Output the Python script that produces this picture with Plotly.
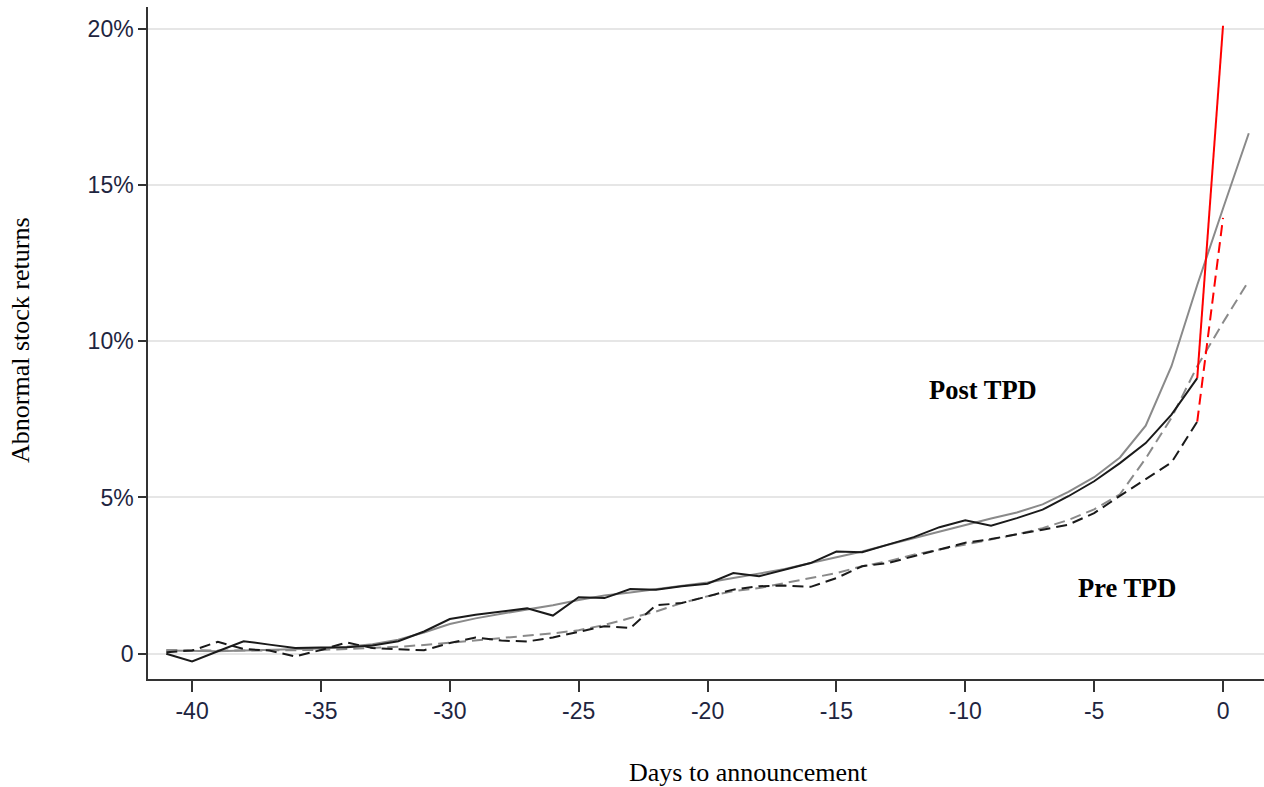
import plotly.graph_objects as go

days = list(range(-41, 2))           # -41 .. 1
days_act = list(range(-41, 0))       # -41 .. -1

post_actual = [0.00, -0.25, 0.08, 0.40, 0.29, 0.18, 0.20, 0.21, 0.26, 0.40,
               0.71, 1.11, 1.25, 1.35, 1.45, 1.22, 1.81, 1.78, 2.07, 2.05,
               2.16, 2.24, 2.58, 2.48, 2.69, 2.90, 3.27, 3.25, 3.49, 3.73,
               4.05, 4.27, 4.10, 4.34, 4.61, 5.04, 5.52, 6.10, 6.74, 7.65,
               8.82]
post_fit = [0.10, 0.08, 0.08, 0.10, 0.12, 0.15, 0.17, 0.22, 0.30, 0.45,
            0.68, 0.95, 1.13, 1.28, 1.42, 1.55, 1.72, 1.86, 1.96, 2.07,
            2.18, 2.28, 2.42, 2.56, 2.71, 2.90, 3.09, 3.27, 3.49, 3.70,
            3.92, 4.13, 4.33, 4.52, 4.78, 5.18, 5.65, 6.28, 7.30, 9.20,
            11.80, 14.25, 16.66]
pre_actual = [0.05, 0.10, 0.38, 0.15, 0.10, -0.09, 0.12, 0.36, 0.18, 0.15,
              0.11, 0.34, 0.52, 0.42, 0.39, 0.52, 0.70, 0.88, 0.82, 1.55,
              1.62, 1.84, 2.05, 2.16, 2.18, 2.14, 2.42, 2.80, 2.90, 3.12,
              3.33, 3.55, 3.67, 3.81, 3.97, 4.13, 4.50, 5.05, 5.59, 6.12,
              7.43]
pre_fit = [0.12, 0.10, 0.10, 0.10, 0.10, 0.10, 0.12, 0.15, 0.18, 0.22,
           0.28, 0.35, 0.42, 0.50, 0.56, 0.65, 0.75, 0.92, 1.14, 1.35,
           1.62, 1.84, 2.00, 2.10, 2.26, 2.42, 2.58, 2.80, 2.96, 3.17,
           3.33, 3.49, 3.65, 3.82, 4.02, 4.28, 4.62, 5.10, 6.25, 7.55,
           9.20, 10.60, 11.94]
post_jump = [8.82, 20.10]   # day -1 -> 0
pre_jump = [7.43, 13.95]
jump_days = [-1, 0]

y_ticks = [0, 5, 10, 15, 20]
y_labels = ["0", "5%", "10%", "15%", "20%"]
x_ticks = [-40, -35, -30, -25, -20, -15, -10, -5, 0]
x_labels = ["-40", "-35", "-30", "-25", "-20", "-15", "-10", "-5", "0"]

DASH = "11px,6px"
fig = go.Figure()
fig.add_trace(go.Scatter(x=days, y=post_fit, mode="lines",
                         line=dict(color="#8a8a8a", width=2)))
fig.add_trace(go.Scatter(x=days, y=pre_fit, mode="lines",
                         line=dict(color="#8a8a8a", width=2, dash=DASH)))
fig.add_trace(go.Scatter(x=days_act, y=post_actual, mode="lines",
                         line=dict(color="#1a1a1a", width=2)))
fig.add_trace(go.Scatter(x=days_act, y=pre_actual, mode="lines",
                         line=dict(color="#1a1a1a", width=2, dash=DASH)))
fig.add_trace(go.Scatter(x=jump_days, y=post_jump, mode="lines",
                         line=dict(color="#ff0000", width=2)))
fig.add_trace(go.Scatter(x=jump_days, y=pre_jump, mode="lines",
                         line=dict(color="#ff0000", width=2, dash=DASH)))

tickfont = dict(family="Liberation Sans, Arial, sans-serif", size=23, color="#1e2540")
serif = "Liberation Serif, Times New Roman, serif"

L, R, T, B = 148, 0, 7, 108
W, H = 1264, 787
pw, ph = W - L - R, H - T - B


def px(x, y):
    return (x - L) / pw, (H - B - y) / ph


annots = []
for text, xp, yp, size, ang in [
    ("<b>Post TPD</b>", 983, 390, 26.5, 0),
    ("<b>Pre TPD</b>", 1127, 588, 26.5, 0),
    ("Days to announcement", 748, 772, 26, 0),
    ("Abnormal stock returns", 20, 340, 26, -90),
]:
    ax, ay = px(xp, yp)
    annots.append(dict(text=text, x=ax, y=ay, xref="paper", yref="paper",
                       xanchor="center", yanchor="middle", showarrow=False,
                       textangle=ang,
                       font=dict(family=serif, size=size, color="black")))

fig.update_layout(
    width=W, height=H,
    margin=dict(l=L, r=R, t=T, b=B),
    paper_bgcolor="white", plot_bgcolor="white",
    showlegend=False,
    xaxis=dict(range=[-41.71, 1.59], tickvals=x_ticks, ticktext=x_labels,
               ticks="outside", ticklen=11, tickwidth=1.5, tickcolor="#333",
               showline=True, linecolor="#333", linewidth=1.5,
               showgrid=False, zeroline=False, tickfont=tickfont),
    yaxis=dict(range=[-0.81, 20.70], tickvals=y_ticks, ticktext=y_labels,
               ticks="outside", ticklen=8, tickwidth=1.5, tickcolor="#333",
               showline=True, linecolor="#333", linewidth=1.5,
               showgrid=True, gridcolor="#e6e6e6", gridwidth=2,
               zeroline=False, tickfont=tickfont),
    annotations=annots,
)

fig.write_html("out.html")
